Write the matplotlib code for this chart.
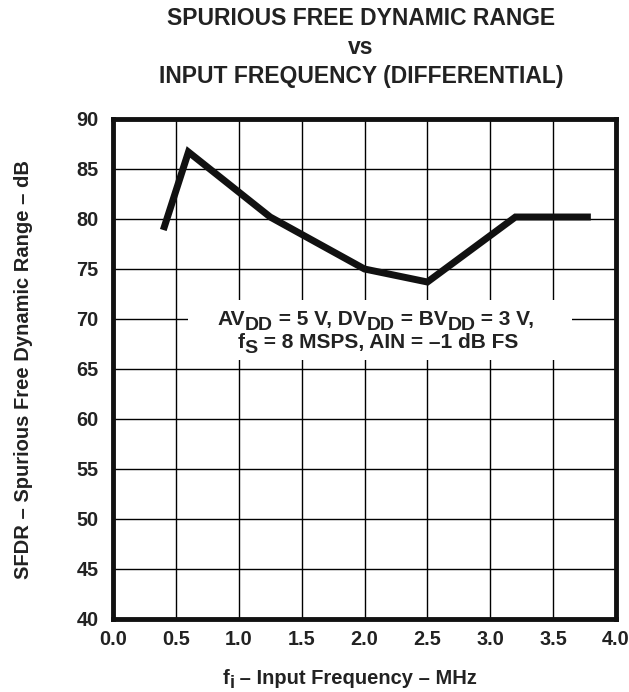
import matplotlib
matplotlib.use("Agg")
import matplotlib.pyplot as plt
from matplotlib.transforms import IdentityTransform
from matplotlib.patches import Rectangle

plt.rcParams['font.family'] = ['Liberation Sans', 'DejaVu Sans']
plt.rcParams['font.weight'] = 'bold'

# data
freq_mhz = [0.40, 0.60, 1.25, 2.00, 2.50, 3.20, 3.80]
sfdr_db = [78.9, 86.7, 80.2, 75.0, 73.7, 80.2, 80.2]
x_ticks = [0.0, 0.5, 1.0, 1.5, 2.0, 2.5, 3.0, 3.5, 4.0]
y_ticks = [40, 45, 50, 55, 60, 65, 70, 75, 80, 85, 90]
title_lines = ["SPURIOUS FREE DYNAMIC RANGE", "vs", "INPUT FREQUENCY (DIFFERENTIAL)"]

W, H = 629, 692
fig = plt.figure(figsize=(W / 100, H / 100), dpi=100)
L, R, T, B = 113, 616, 119, 619
ax = fig.add_axes([L / W, 1 - B / H, (R - L) / W, (B - T) / H])

ax.set_xlim(0, 4)
ax.set_ylim(40, 90)
ax.set_xticks(x_ticks)
ax.set_yticks(y_ticks)
ax.set_xticklabels([f"{v:.1f}" for v in x_ticks])
ax.set_yticklabels([str(v) for v in y_ticks])
ax.tick_params(length=0, labelsize=14.3, colors='#222222')
ax.tick_params(axis='x', pad=8)
ax.tick_params(axis='y', pad=10.5)
ax.grid(True, color='black', linewidth=1.0, zorder=1)
ax.set_axisbelow(True)
for s in ax.spines.values():
    s.set_linewidth(3.5)
    s.set_color('#111111')

# white box behind the annotation
ax.add_patch(Rectangle((0.595, 65.9), 3.65 - 0.595, 71.9 - 65.9, facecolor='white',
                       edgecolor='none', zorder=2))

ax.plot(freq_mhz, sfdr_db, color='#111111', linewidth=5, solid_capstyle='butt',
        solid_joinstyle='miter', zorder=3)

renderer = fig.canvas.get_renderer()


def rich_line(xc, yb, segments, fs, sub_fs, sub_off):
    """xc, yb in figure pixels from top-left; segments (text, is_sub)."""
    texts = []
    for s, sub in segments:
        t = fig.text(0, 0, s, fontsize=sub_fs if sub else fs, fontweight='bold',
                     ha='left', va='baseline', transform=IdentityTransform(), zorder=5,
                     color='#222222')
        texts.append((t, sub))
    widths = [t.get_window_extent(renderer).width for t, _ in texts]
    total = sum(widths)
    x = xc - total / 2
    for (t, sub), w in zip(texts, widths):
        t.set_position((x, H - yb - (sub_off if sub else 0)))
        x += w


rich_line(376, 325, [("AV", False), ("DD", True), (" = 5 V, DV", False), ("DD", True),
                     (" = BV", False), ("DD", True), (" = 3 V,", False)], 15, 14, 5)
rich_line(378, 348, [("f", False), ("S", True), (" = 8 MSPS, AIN = \u20131 dB FS", False)],
          15, 14, 5)

# axis labels
rich_line(350, 684, [("f", False), ("i", True), (" \u2013 Input Frequency \u2013 MHz", False)],
          14.5, 13, 4)
fig.text(24 / W, 1 - 370 / H, "SFDR \u2013 Spurious Free Dynamic Range \u2013 dB",
         rotation=90, ha='center', va='center', fontsize=14.5, fontweight='bold',
         color='#222222')

title_baselines = [25, 54, 83]
for line, yb in zip(title_lines, title_baselines):
    fig.text(361 / W, 1 - yb / H, line, ha='center', va='baseline',
             fontsize=16.5, fontweight='bold', color='#222222')

fig.savefig("out.png", dpi=100)
